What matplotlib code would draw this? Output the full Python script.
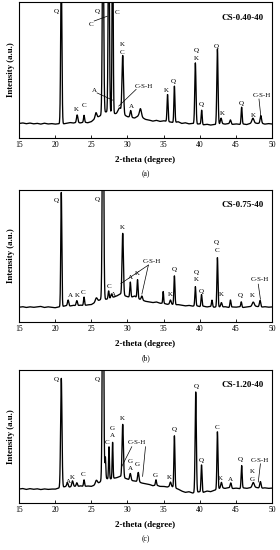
import numpy as np
import matplotlib
matplotlib.use("Agg")
import matplotlib.pyplot as plt

plt.rcParams['font.family'] = ['Liberation Serif', 'DejaVu Serif']

# ---------------- data ----------------
base_x = np.arange(15.0, 50.001, 0.5)

# panel (a) CS-0.40-40
a_base = [10.5, 10.9, 10.3, 10.8, 10.2, 10.6, 10.0, 10.7, 10.1, 10.4,
          10.0, 10.3, 10.0, 10.6, 11.2, 10.8, 11.3, 10.9, 11.5, 11.0,
          11.8, 14.0, 15.5, 17.0, 19.0, 19.0, 18.0, 17.5, 18.0, 17.0,
          15.5, 15.0, 14.5, 16.0, 15.0, 13.5, 13.0, 12.2, 12.8, 12.0,
          12.5, 12.0, 11.5, 11.0, 11.8, 10.5, 11.0, 10.2, 10.6, 10.0,
          10.2, 9.5, 9.9, 9.3, 9.8, 9.5, 10.5, 10.0, 10.4, 9.8,
          10.2, 9.8, 10.1, 9.7, 10.5, 11.0, 10.5, 10.8, 10.0, 10.4,
          10.1]
a_pos = [20.85, 23.05, 24.0, 25.65, 26.62, 27.42, 27.95, 28.9, 29.35, 30.45,
         31.8, 35.55, 36.5, 39.4, 40.27, 42.45, 42.95, 44.25, 45.8, 47.35, 48.45]
a_hgt = [110, 5.5, 5, 4, 150, 150, 150, 4, 43, 5,
         6, 20, 27, 45, 10.5, 56, 4, 3, 12.5, 3.5, 5.5]
a_fw = [0.2, 0.22, 0.17, 0.27, 0.22, 0.2, 0.17, 0.5, 0.24, 0.22,
        0.32, 0.17, 0.17, 0.2, 0.17, 0.2, 0.22, 0.22, 0.17, 0.32, 0.22]
a_lab = ["Q", "Q", "C", "C", "K", "C", "A", "C-S-H", "A", "K", "C", "K", "Q",
         "Q", "K", "Q", "Q", "K", "Q", "K", "C-S-H"]
a_lx = [20.1, 25.8, 28.5, 24.9, 29.3, 29.3, 25.4, 32.3, 30.5, 23.0, 23.95, 35.4, 36.4,
        39.5, 39.5, 40.2, 42.35, 43.15, 45.75, 47.4, 48.55]
a_ly = [92.7, 92.7, 92.2, 83.6, 68.7, 62.8, 34.6, 38.0, 23.3, 20.9, 23.5, 35.0, 41.2,
        64.5, 58.4, 24.8, 67.4, 18.0, 25.3, 16.7, 30.9]
a_lead = [(25.4, 86.0, 27.2, 89.5), (25.8, 33.0, 27.95, 27.7),
          (31.2, 35.6, 28.8, 23.3), (48.2, 28.5, 48.45, 16.0)]

# panel (b) CS-0.75-40
b_base = [11.0, 11.4, 10.8, 11.3, 10.9, 11.2, 11.6, 10.8, 11.3, 11.0,
          10.6, 11.2, 11.5, 12.2, 11.8, 12.5, 12.0, 12.6, 12.2, 12.8,
          13.0, 14.5, 16.0, 17.5, 17.0, 17.5, 18.5, 19.5, 21.0, 20.0,
          19.0, 18.5, 19.5, 17.5, 16.5, 15.5, 15.0, 14.5, 15.0, 14.0,
          14.0, 13.2, 13.5, 12.8, 13.0, 12.5, 12.0, 12.4, 11.8, 12.2,
          11.5, 11.8, 11.2, 11.6, 11.0, 11.5, 11.0, 11.4, 10.8, 11.2,
          11.0, 11.4, 10.8, 11.2, 11.5, 12.0, 11.5, 11.0, 11.4, 11.0,
          11.2]
b_pos = [20.85, 21.8, 23.0, 24.0, 25.7, 26.62, 27.4, 27.8, 29.35, 30.4,
         31.4, 32.0, 34.95, 35.95, 36.5, 39.4, 40.25, 41.7, 42.45, 43.0,
         44.25, 45.75, 47.4, 48.35]
b_hgt = [87.5, 4.5, 4, 6.5, 3, 200, 6, 3, 47, 11.5,
         14, 3, 9, 3, 22, 14.5, 9, 5, 37.5, 3.5,
         5.5, 4, 3, 5]
b_fw = [0.17, 0.22, 0.22, 0.17, 0.32, 0.22, 0.17, 0.22, 0.22, 0.17,
        0.17, 0.22, 0.14, 0.22, 0.17, 0.17, 0.17, 0.17, 0.17, 0.22,
        0.17, 0.17, 0.32, 0.22]
b_lab = ["Q", "Q", "A", "K", "C", "C", "A", "K", "A", "K", "C-S-H",
         "Q", "K", "Q", "K", "Q", "Q", "C", "K", "Q", "K", "C-S-H"]
b_lx = [20.2, 25.8, 22.05, 23.07, 23.9, 27.45, 28.05, 29.35, 30.35, 31.36, 33.4,
        36.44, 35.9, 39.48, 39.48, 40.17, 42.35, 42.35, 42.95, 45.6, 47.27, 48.33]
b_ly = [92.3, 93.0, 20.0, 20.0, 22.0, 26.6, 21.0, 71.7, 33.7, 36.7, 46.0,
        39.8, 20.8, 37.2, 32.2, 22.8, 60.3, 54.4, 20.3, 19.7, 19.7, 31.7]
b_lead = [(32.9, 43.0, 29.1, 29.0), (32.9, 43.0, 32.0, 21.0),
          (48.1, 28.5, 48.4, 17.0)]

# panel (c) CS-1.20-40
c_base = [10.5, 10.9, 10.2, 10.8, 10.3, 10.7, 10.1, 10.6, 10.2, 10.5,
          10.4, 11.2, 11.8, 12.5, 12.0, 12.8, 12.2, 12.9, 12.4, 12.8,
          12.5, 13.5, 15.0, 17.0, 18.5, 18.0, 18.5, 19.0, 20.0, 19.0,
          18.0, 17.0, 16.5, 16.0, 15.0, 14.5, 14.0, 13.0, 13.5, 12.5,
          12.5, 12.0, 12.8, 11.5, 10.5, 9.0, 8.0, 8.5, 7.5, 8.0,
          8.5, 8.0, 9.0, 8.5, 9.5, 10.5, 11.5, 11.0, 11.5, 10.8,
          11.2, 10.8, 11.4, 11.0, 11.5, 12.0, 11.5, 11.0, 11.4, 11.0,
          11.2]
c_pos = [20.85, 21.7, 22.4, 23.0, 24.0, 25.7, 26.62, 26.95, 27.45, 27.95,
         29.35, 30.4, 31.5, 33.95, 35.95, 36.5, 39.45, 40.25, 42.45, 43.0,
         44.3, 45.8, 47.4, 48.4]
c_hgt = [82.5, 3, 4, 3, 5, 3, 200, 16, 24.5, 27.5,
         40, 5, 7, 4, 3, 39, 76, 20.5, 43.5, 4,
         4, 17, 3.5, 5]
c_fw = [0.22, 0.22, 0.22, 0.22, 0.17, 0.32, 0.22, 0.14, 0.14, 0.14,
        0.22, 0.22, 0.22, 0.17, 0.22, 0.17, 0.2, 0.17, 0.17, 0.22,
        0.22, 0.17, 0.32, 0.22]
c_lab = ["Q", "Q", "A", "K", "C", "C", "G", "A", "K", "C-S-H", "G", "A", "G",
         "G", "K", "Q", "Q", "Q", "C", "K", "A", "Q", "K", "G", "C-S-H"]
c_lx = [20.12, 25.8, 21.8, 22.4, 23.9, 27.25, 27.9, 27.9, 29.3, 31.3, 30.35, 30.35, 31.35,
        33.9, 35.8, 36.45, 39.5, 40.2, 42.35, 42.9, 44.2, 45.65, 47.3, 47.3, 48.3]
c_ly = [93.2, 93.0, 16.0, 19.0, 21.8, 45.3, 56.0, 50.6, 63.7, 45.6, 31.0, 25.6, 28.6,
        21.0, 19.3, 55.0, 87.5, 32.3, 57.0, 18.5, 17.3, 33.0, 23.5, 18.0, 32.3]
c_lead = [(30.6, 42.3, 29.2, 27.3), (32.5, 42.3, 32.1, 20.0),
          (48.4, 29.5, 48.1, 15.8)]

names = ["CS-0.40-40", "CS-0.75-40", "CS-1.20-40"]
captions = ["(a)", "(b)", "(c)"]
xticks = [15, 20, 25, 30, 35, 40, 45, 50]

panels = [
    (a_base, a_pos, a_hgt, a_fw, a_lab, a_lx, a_ly, a_lead),
    (b_base, b_pos, b_hgt, b_fw, b_lab, b_lx, b_ly, b_lead),
    (c_base, c_pos, c_hgt, c_fw, c_lab, c_lx, c_ly, c_lead),
]

# axes rectangles in pixels: (top, bottom)
W, H = 280, 550
rects_px = [(2, 137.7), (190, 321.7), (370, 503)]
left_px, right_px = 19, 272

fig = plt.figure(figsize=(W / 100, H / 100), dpi=100)

x = np.arange(15.0, 50.0001, 0.02)

for i, (base, pos, hgt, fw, lab, lx, ly, lead) in enumerate(panels):
    top, bot = rects_px[i]
    ax = fig.add_axes([left_px / W, 1 - bot / H, (right_px - left_px) / W, (bot - top) / H])
    y = np.interp(x, base_x, base)
    for p, h, w in zip(pos, hgt, fw):
        s = w / 2.355
        y = y + h * np.exp(-0.5 * ((x - p) / s) ** 2)
    ax.plot(x, y, color='black', lw=0.95)
    ax.set_xlim(15, 50)
    ax.set_ylim(0, 100)
    ax.set_yticks([])
    ax.set_xticks(xticks)
    ax.set_xticklabels([str(t) for t in xticks], fontsize=5.5)
    ax.tick_params(axis='x', direction='in', length=2, width=0.6, pad=2.5)
    for sp in ax.spines.values():
        sp.set_linewidth(0.8)
    ax.set_ylabel("Intensity (a.u.)", fontsize=6.3, fontweight='bold', labelpad=3)
    for t, xx, yy in zip(lab, lx, ly):
        ax.text(xx, yy, t, fontsize=5, ha='center', va='center')
    for (x0, y0, x1, y1) in lead:
        ax.plot([x0, x1], [y0, y1], color='black', lw=0.5)
    ax.text(48.9, 88.5, names[i], fontsize=6.5, fontweight='bold', ha='right', va='center')
    cx = (left_px + right_px) / 2 / W
    fig.text(cx, 1 - (bot + 22) / H, "2-theta (degree)", fontsize=6.5,
             fontweight='bold', ha='center', va='center')
    fig.text(cx, 1 - (bot + 36) / H, captions[i], fontsize=5.5, ha='center', va='center')

fig.savefig("out.png", dpi=100)
